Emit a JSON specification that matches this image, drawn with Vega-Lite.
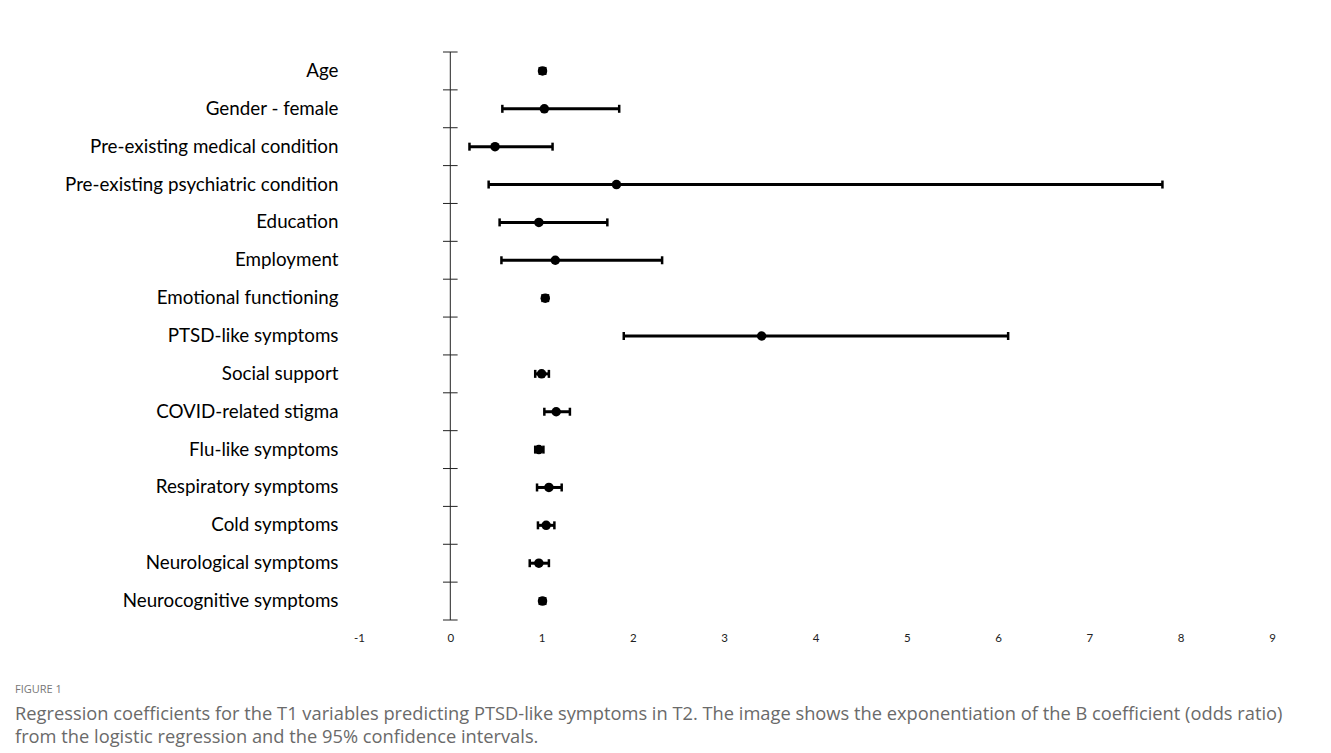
{
  "$schema": "https://vega.github.io/schema/vega-lite/v6.json",
  "width": 913,
  "height": 568,
  "autosize": {"type": "none"},
  "padding": {"left": 359, "top": 52, "right": 59, "bottom": 133},
  "background": "white",
  "config": {"view": {"stroke": null}, "font": "Lato"},
  "title": {
    "text": "FIGURE 1",
    "subtitle": ["Regression coefficients for the T1 variables predicting PTSD-like symptoms in T2. The image shows the exponentiation of the B coefficient (odds ratio)", "from the logistic regression and the 95% confidence intervals."],
    "orient": "bottom",
    "anchor": "start",
    "frame": "group",
    "dx": -344,
    "offset": 40,
    "font": "Open Sans",
    "fontSize": 11,
    "fontWeight": "normal",
    "color": "#777777",
    "subtitleFont": "Open Sans",
    "subtitleFontSize": 18.3,
    "subtitleColor": "#6a6a6a",
    "subtitleLineHeight": 23,
    "subtitlePadding": 11
  },
  "data": {"values": [
    {"var": "Age", "or": 1.01, "lo": 0.98, "hi": 1.04},
    {"var": "Gender - female", "or": 1.03, "lo": 0.57, "hi": 1.85},
    {"var": "Pre-existing medical condition", "or": 0.49, "lo": 0.21, "hi": 1.12},
    {"var": "Pre-existing psychiatric condition", "or": 1.82, "lo": 0.42, "hi": 7.8},
    {"var": "Education", "or": 0.97, "lo": 0.54, "hi": 1.72},
    {"var": "Employment", "or": 1.15, "lo": 0.56, "hi": 2.32},
    {"var": "Emotional functioning", "or": 1.04, "lo": 1.01, "hi": 1.07},
    {"var": "PTSD-like symptoms", "or": 3.41, "lo": 1.9, "hi": 6.11},
    {"var": "Social support", "or": 1.0, "lo": 0.93, "hi": 1.08},
    {"var": "COVID-related stigma", "or": 1.16, "lo": 1.03, "hi": 1.31},
    {"var": "Flu-like symptoms", "or": 0.97, "lo": 0.93, "hi": 1.02},
    {"var": "Respiratory symptoms", "or": 1.08, "lo": 0.95, "hi": 1.22},
    {"var": "Cold symptoms", "or": 1.05, "lo": 0.96, "hi": 1.14},
    {"var": "Neurological symptoms", "or": 0.97, "lo": 0.87, "hi": 1.08},
    {"var": "Neurocognitive symptoms", "or": 1.01, "lo": 0.98, "hi": 1.04}
  ]},
  "layer": [
    {
      "mark": {"type": "rule", "color": "#222222", "strokeWidth": 1},
      "encoding": {
        "x": {"datum": 0, "type": "quantitative", "scale": {"domain": [-1, 9], "nice": false, "zero": false},
          "axis": {"title": null, "domain": false, "ticks": false, "grid": false, "values": [-1, 0, 1, 2, 3, 4, 5, 6, 7, 8, 9], "labelExpr": "'' + datum.value", "labelFontSize": 11.5, "labelColor": "#222222", "labelPadding": 12, "labelFlush": false, "labelFont": "Lato"}},
        "y": {"field": "var", "type": "nominal", "sort": null, "scale": {"paddingInner": 0, "paddingOuter": 0}, "bandPosition": 0,
          "axis": {"title": null, "domain": false, "ticks": false, "grid": false, "labelPadding": 21, "labelFontSize": 18.8, "labelColor": "#000000", "labelFont": "Lato", "labelLimit": 500}},
        "y2": {"field": "var", "bandPosition": 1}
      }
    },
    {
      "mark": {"type": "rule", "color": "#222222", "strokeWidth": 1},
      "encoding": {
        "x": {"datum": -0.08, "type": "quantitative"},
        "x2": {"datum": 0.08},
        "y": {"field": "var", "type": "nominal", "sort": null, "bandPosition": 0}
      }
    },
    {
      "transform": [{"filter": "datum.var === 'Neurocognitive symptoms'"}],
      "mark": {"type": "rule", "color": "#222222", "strokeWidth": 1},
      "encoding": {
        "x": {"datum": -0.08, "type": "quantitative"},
        "x2": {"datum": 0.08},
        "y": {"field": "var", "type": "nominal", "sort": null, "bandPosition": 1}
      }
    },
    {
      "mark": {"type": "rule", "color": "#000000", "strokeWidth": 3},
      "encoding": {
        "x": {"field": "lo", "type": "quantitative"},
        "x2": {"field": "hi"},
        "y": {"field": "var", "type": "nominal", "sort": null}
      }
    },
    {
      "mark": {"type": "tick", "color": "#000000", "size": 8, "thickness": 2.5, "opacity": 1},
      "encoding": {
        "x": {"field": "lo", "type": "quantitative"},
        "y": {"field": "var", "type": "nominal", "sort": null}
      }
    },
    {
      "mark": {"type": "tick", "color": "#000000", "size": 8, "thickness": 2.5, "opacity": 1},
      "encoding": {
        "x": {"field": "hi", "type": "quantitative"},
        "y": {"field": "var", "type": "nominal", "sort": null}
      }
    },
    {
      "mark": {"type": "circle", "color": "#000000", "size": 90, "opacity": 1},
      "encoding": {
        "x": {"field": "or", "type": "quantitative"},
        "y": {"field": "var", "type": "nominal", "sort": null}
      }
    }
  ]
}
